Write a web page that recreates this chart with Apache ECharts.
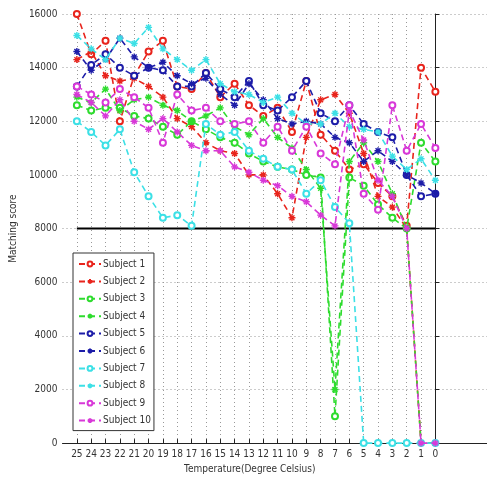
<!DOCTYPE html>
<html>
<head>
<meta charset="utf-8">
<script src="https://cdn.jsdelivr.net/npm/echarts@6/dist/echarts.min.js"></script>
<style>
  html, body { margin: 0; padding: 0; background: #fff; }
  #chart { width: 487px; height: 479px; }
</style>
</head>
<body>
<div id="chart"></div>
<script>
// temperatures on the x axis, from warm to cold
var temps = [25, 24, 23, 22, 21, 20, 19, 18, 17, 16, 15, 14, 13, 12, 11, 10, 9, 8, 7, 6, 5, 4, 3, 2, 1, 0];
var yTicks = [0, 2000, 4000, 6000, 8000, 10000, 12000, 14000, 16000];
var threshold = 8000;

// matching scores per subject, one value per temperature
var subject1 = [16000,14500,15000,12000,13700,14600,15000,13300,13200,13800,12900,13400,12600,12200,12500,11600,13500,11500,10900,10200,10400,9700,9200,8100,14000,13100];
var subject2 = [14300,14600,13700,13500,13600,13300,12900,12100,11800,11200,10900,10800,10000,10000,9300,8400,11400,12800,13000,12300,10800,9200,8800,8000,0,0];
var subject3 = [12600,12400,12500,12500,12200,12100,11800,11500,12000,11700,11400,11200,10800,10500,10300,10200,10000,9900,1000,9900,9600,8900,8400,8000,11200,10500];
var subject4 = [12900,12700,13200,12400,12800,12900,12600,12400,12000,12200,12500,11800,11500,12100,11400,11000,10200,9500,2000,10500,11200,10500,9300,8000,0,0];
var subject5 = [13300,14100,14500,14000,13700,14000,13900,13300,13300,13800,13200,12900,13500,12600,12400,12900,13500,12300,12000,12600,11900,11600,11400,10000,9200,9300];
var subject6 = [14600,13900,14300,15100,14400,14000,14200,13700,13400,13600,13000,12600,13400,12800,12100,11900,12000,11900,11400,11200,10500,10900,10500,10000,9700,9300];
var subject7 = [12000,11600,11100,11700,10100,9200,8400,8500,8100,11900,11500,11600,10900,10600,10300,10200,9300,9800,8800,8200,0,0,0,0,0,0];
var subject8 = [15200,14700,14300,15100,14900,15500,14700,14300,13900,14300,13400,13100,13000,12700,12900,12300,11900,11900,12300,11800,11700,11600,10700,10200,10600,9800];
var subject9 = [13300,13000,12700,13200,12900,12500,11200,13000,12400,12500,12000,11900,12000,11200,11800,10900,11800,10800,10400,12600,9300,8700,12600,10900,11900,11000];
var subject10 = [13000,12700,12200,12800,12000,11700,12100,11600,11100,10900,10900,10300,10100,9800,9600,9200,9000,8500,8100,12400,11300,9800,9200,8000,0,0];

var names = ['Subject 1','Subject 2','Subject 3','Subject 4','Subject 5','Subject 6','Subject 7','Subject 8','Subject 9','Subject 10'];
var values = [subject1, subject2, subject3, subject4, subject5, subject6, subject7, subject8, subject9, subject10];
var colors = ['#e8241c','#e8241c','#2edc2e','#2edc2e','#1c1ca8','#1c1ca8','#3ce0e6','#3ce0e6','#d838d8','#d838d8'];

var font = "'DejaVu Sans Condensed', 'Liberation Sans Narrow', 'Liberation Sans', sans-serif";
// asterisk marker like matlab '*'
var asterisk = 'path://M5,0L5,10M0,5L10,5M1.5,1.5L8.5,8.5M8.5,1.5L1.5,8.5';

var series = names.map(function (name, k) {
  var star = k % 2 === 1;
  return {
    name: name,
    type: 'line',
    data: temps.map(function (t, i) { return [t, values[k][i]]; }),
    symbol: star ? asterisk : 'emptyCircle',
    symbolSize: star ? 7 : 6,
    lineStyle: { color: colors[k], width: 1.6, type: [6, 4] },
    itemStyle: { color: colors[k], borderColor: colors[k], borderWidth: 1.4 },
    z: 3 + k
  };
});

// black threshold line
series.push({
  name: 'threshold',
  type: 'line',
  data: [[temps[0], threshold], [temps[temps.length - 1], threshold]],
  symbol: 'none',
  silent: true,
  lineStyle: { color: '#000', width: 2 },
  z: 2
});

var chart = echarts.init(document.getElementById('chart'));
chart.setOption({
  animation: false,
  color: colors,
  grid: { left: 52, top: 14, right: 0, bottom: 33 },
  legend: {
    data: names,
    orient: 'vertical',
    left: 73,
    top: 253,
    padding: [6, 3, 5, 5],
    backgroundColor: '#fff',
    borderColor: '#333',
    borderWidth: 1,
    itemWidth: 22,
    itemHeight: 6,
    itemGap: 7.4,
    textStyle: { fontSize: 10, lineHeight: 10, fontFamily: font, color: '#333', padding: [0, 0, 0, -3] }
  },
  xAxis: {
    type: 'value',
    inverse: true,
    min: -3.6,
    max: 26,
    name: 'Temperature(Degree Celsius)',
    nameLocation: 'middle',
    nameGap: 20,
    nameTextStyle: { fontSize: 10, fontFamily: font, color: '#333', padding: [0, 50, 0, 0] },
    axisLine: { lineStyle: { color: '#222', width: 1 } },
    axisTick: { inside: true, length: 4, customValues: temps, lineStyle: { color: '#222' } },
    axisLabel: { customValues: temps, fontSize: 10, fontFamily: font, color: '#333', margin: 6 },
    splitLine: { show: true, lineStyle: { color: '#999', type: [1, 3] } }
  },
  yAxis: {
    type: 'value',
    min: yTicks[0],
    max: yTicks[yTicks.length - 1],
    interval: 2000,
    name: 'Matching score',
    nameLocation: 'middle',
    nameGap: 36,
    nameTextStyle: { fontSize: 10, fontFamily: font, color: '#333' },
    axisLine: { show: true, lineStyle: { color: '#222', width: 1 } },
    axisTick: { show: true, inside: true, length: 4, lineStyle: { color: '#222' } },
    axisLabel: {
      fontSize: 10, fontFamily: font, color: '#333', margin: 5,
      formatter: function (v) { return String(v); }
    },
    splitLine: { show: true, lineStyle: { color: '#999', type: [1, 3] } }
  },
  series: series
});
</script>
</body>
</html>
